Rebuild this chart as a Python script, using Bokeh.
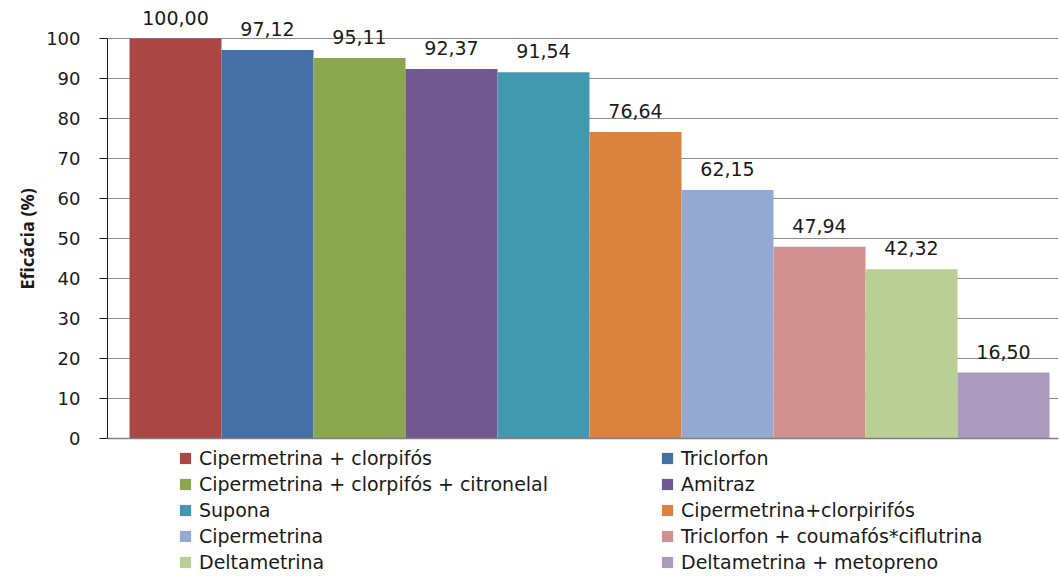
from bokeh.plotting import figure
from bokeh.models import (ColumnDataSource, LabelSet, Legend, LegendItem,
                          Range1d, FixedTicker, Span, Title)
from bokeh.core.properties import value
from bokeh.embed import file_html
from bokeh.resources import INLINE

# Efficacy of each treatment (%)
treatments = [
    "Cipermetrina + clorpifós",
    "Triclorfon",
    "Cipermetrina + clorpifós + citronelal",
    "Amitraz",
    "Supona",
    "Cipermetrina+clorpirifós",
    "Cipermetrina",
    "Triclorfon + coumafós*ciflutrina",
    "Deltametrina",
    "Deltametrina + metopreno",
]
efficacy = [100.00, 97.12, 95.11, 92.37, 91.54, 76.64, 62.15, 47.94, 42.32, 16.50]
colors = [
    "#AA4644", "#4470A6", "#8AA64F", "#71598F", "#4199B0",
    "#DA833F", "#95A9D1", "#D09190", "#BACF96", "#A99ABE",
]
y_ticks = list(range(0, 101, 10))
y_title = "Eficácia (%)"

labels = [f"{v:.2f}".replace(".", ",") for v in efficacy]
src = ColumnDataSource(dict(
    x=list(range(len(efficacy))), y=efficacy, color=colors,
    label=labels, name=treatments,
))

FONT = "DejaVu Sans"

# the frame reaches down to the page bottom so the legend can sit under the bars
p = figure(
    width=1059, height=576, output_backend="svg", toolbar_location=None,
    x_range=Range1d(-0.7391, 9.5978), y_range=Range1d(-34.5, 109.5),
    min_border_left=107, min_border_right=1, min_border_top=0,
    min_border_bottom=0, outline_line_color=None,
    background_fill_color="white", border_fill_color="white",
)

bars = p.vbar(x="x", top="y", width=1.0, bottom=0, fill_color="color",
              line_color=None, source=src)

# y axis
p.yaxis.ticker = FixedTicker(ticks=y_ticks)
p.yaxis.bounds = (0, 100)
p.yaxis.axis_line_color = "#1a1a1a"
p.yaxis.major_tick_line_color = "#1a1a1a"
p.yaxis.major_tick_out = 8
p.yaxis.major_tick_in = 0
p.yaxis.minor_tick_line_color = None
p.yaxis.major_label_text_font = FONT
p.yaxis.major_label_text_font_size = "18px"
p.yaxis.major_label_text_color = "#1a1a1a"
p.yaxis.major_label_standoff = 19

# axis title, centred on the 0-100 span of the axis rather than the frame
p.add_layout(Title(
    text=y_title, align="left", offset=287, standoff=9,
    text_font="Open Sans", text_font_style="bold", text_font_size="18px",
    text_color="#1a1a1a",
), "left")

p.xaxis.visible = False
p.xgrid.visible = False
p.ygrid.ticker = FixedTicker(ticks=y_ticks)
p.ygrid.grid_line_color = "#8c8c8c"
p.ygrid.grid_line_width = 1

p.add_layout(Span(location=0, dimension="width", line_color="#7f7f7f",
                  line_width=1.5))

# value labels above bars
p.add_layout(LabelSet(
    x="x", y="y", text="label", source=src, text_align="center",
    text_baseline="alphabetic", y_offset=14,
    text_font=value(FONT), text_font_size="19px", text_color="#1a1a1a",
))

# two-column legend below the chart
def make_legend(idx, x):
    items = [LegendItem(label=treatments[i], renderers=[bars], index=i) for i in idx]
    return Legend(
        items=items, location=(x, 3), orientation="vertical",
        glyph_width=14, glyph_height=14, label_standoff=7, spacing=4,
        label_height=20, padding=0, margin=0, border_line_color=None,
        background_fill_alpha=0, label_text_font=FONT,
        label_text_font_size="19px", label_text_color="#1a1a1a",
    )

p.add_layout(make_legend(range(0, 10, 2), 71))
p.add_layout(make_legend(range(1, 10, 2), 553))

open("out.html", "w").write(file_html(p, INLINE))
